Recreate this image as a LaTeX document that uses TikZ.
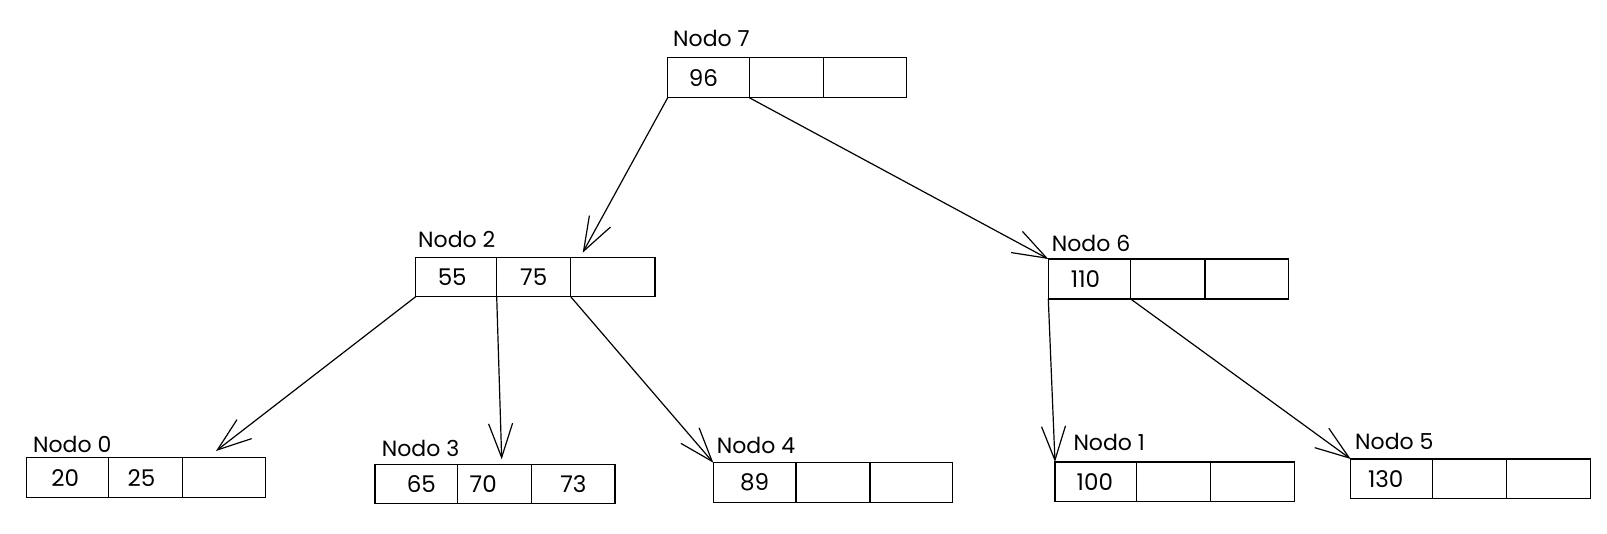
\documentclass[tikz,border=0pt]{standalone}
\usepackage{fontspec}
\setmainfont{Poppins}
\usetikzlibrary{arrows.meta}
\begin{document}
\begin{tikzpicture}[x=1pt,y=-1pt,
  cell/.style={draw, line width=1.3pt, rectangle, anchor=north west, inner sep=0pt, outer sep=0pt, font=\fontsize{23}{26}\selectfont},
  lbl/.style={anchor=base west, inner sep=0pt, font=\fontsize{22}{24}\selectfont},
  arr/.style={line width=1.2pt, -{Straight Barb[length=34pt,width=24pt]}}]
\useasboundingbox (0,0) rectangle (1607,534);
% Nodo 7
\node[lbl] (l7) at (673,47) {Nodo 7};
\node[cell,minimum width=81.6pt,minimum height=40pt] (n7a) at (667.7,57.7) {96\hspace*{10pt}};
\node[cell,minimum width=74.4pt,minimum height=40pt] (n7b) at (n7a.north east) {};
\node[cell,minimum width=83pt,minimum height=40pt] (n7c) at (n7b.north east) {};
% Nodo 2
\node[lbl] (l2) at (418,248) {Nodo 2};
\node[cell,minimum width=81pt,minimum height=39.4pt] (n2a) at (415.7,257.3) {55\hspace*{8pt}};
\node[cell,minimum width=74pt,minimum height=39.4pt] (n2b) at (n2a.north east) {75};
\node[cell,minimum width=84.3pt,minimum height=39.4pt] (n2c) at (n2b.north east) {};
% Nodo 6
\node[lbl] (l6) at (1051.7,251.7) {Nodo 6};
\node[cell,minimum width=82.4pt,minimum height=40pt] (n6a) at (1048.3,259) {110\hspace*{8pt}};
\node[cell,minimum width=74.3pt,minimum height=40pt] (n6b) at (n6a.north east) {};
\node[cell,minimum width=83.3pt,minimum height=40pt] (n6c) at (n6b.north east) {};
% Nodo 0
\node[lbl] (l0) at (33,453) {Nodo 0};
\node[cell,minimum width=82pt,minimum height=40pt] (n0a) at (26.7,457.7) {20\hspace*{5pt}};
\node[cell,minimum width=73.6pt,minimum height=40pt] (n0b) at (n0a.north east) {25\hspace*{8pt}};
\node[cell,minimum width=83.4pt,minimum height=40pt] (n0c) at (n0b.north east) {};
% Nodo 3
\node[lbl] (l3) at (381.7,456.7) {Nodo 3};
\node[cell,minimum width=82.7pt,minimum height=39pt] (n3a) at (375,464.3) {\hspace*{10pt}65};
\node[cell,minimum width=74pt,minimum height=39pt] (n3b) at (n3a.north east) {70\hspace*{23pt}};
\node[cell,minimum width=83.3pt,minimum height=39pt] (n3c) at (n3b.north east) {73};
% Nodo 4
\node[lbl] (l4) at (716.7,453.3) {Nodo 4};
\node[cell,minimum width=82.7pt,minimum height=40pt] (n4a) at (713.3,462.7) {89};
\node[cell,minimum width=74pt,minimum height=40pt] (n4b) at (n4a.north east) {};
\node[cell,minimum width=82.3pt,minimum height=40pt] (n4c) at (n4b.north east) {};
% Nodo 1
\node[lbl] (l1) at (1073.3,450) {Nodo 1};
\node[cell,minimum width=81.7pt,minimum height=39.7pt] (n1a) at (1055,462) {100\hspace*{2pt}};
\node[cell,minimum width=74pt,minimum height=39.7pt] (n1b) at (n1a.north east) {};
\node[cell,minimum width=83.6pt,minimum height=39.7pt] (n1c) at (n1b.north east) {};
% Nodo 5
\node[lbl] (l5) at (1355,449.3) {Nodo 5};
\node[cell,minimum width=82pt,minimum height=39.7pt] (n5a) at (1350.7,459) {130\hspace*{12pt}};
\node[cell,minimum width=74pt,minimum height=39.7pt] (n5b) at (n5a.north east) {};
\node[cell,minimum width=84pt,minimum height=39.7pt] (n5c) at (n5b.north east) {};
% arrow end points
\coordinate (t1) at (582.7,252.7);
\coordinate (t3) at (216,451);
\coordinate (t4) at (501.7,459.3);
% connectors
\draw[arr] (n7a.south west) -- (t1);
\draw[arr] (n7a.south east) -- (n6a.north west);
\draw[arr] (n2a.south west) -- (t3);
\draw[arr] (n2a.south east) -- (t4);
\draw[arr] (n2b.south east) -- (n4a.north west);
\draw[arr] (n6a.south west) -- (n1a.north west);
\draw[arr] (n6a.south east) -- (n5a.north west);
\end{tikzpicture}
\end{document}
